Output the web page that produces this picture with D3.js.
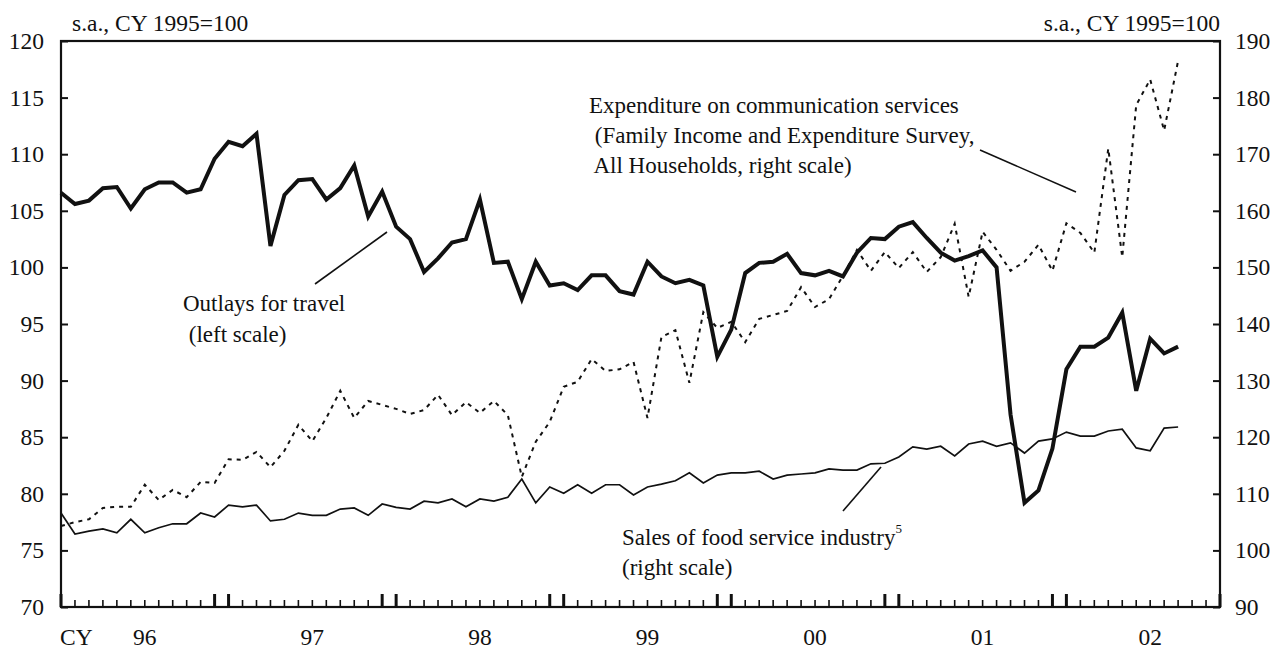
<!DOCTYPE html>
<html>
<head>
<meta charset="utf-8">
<script src="https://cdn.jsdelivr.net/npm/d3@7"></script>
<style>
  html, body { margin: 0; padding: 0; background: #fff; }
  svg { display: block; }
  svg text { font-family: "Liberation Serif", "DejaVu Serif", serif !important; fill: #111; }
</style>
</head>
<body>
<svg id="chart" width="1275" height="651"></svg>
<script>
// ---- data (monthly, index 0 = Jan 1996) ----
const yearLabels = ["96", "97", "98", "99", "00", "01", "02"];
const leftTicks = [70, 75, 80, 85, 90, 95, 100, 105, 110, 115, 120];
const rightTicks = [90, 100, 110, 120, 130, 140, 150, 160, 170, 180, 190];

// Outlays for travel (left scale)
const travel = [
  106.6,105.6,105.9,107.0,107.1,105.2,106.9,107.5,107.5,106.6,106.9,109.6,
  111.1,110.7,111.8,101.9,106.4,107.7,107.8,106.0,107.0,109.0,104.5,106.7,
  103.6,102.5,99.6,100.8,102.2,102.5,106.0,100.4,100.5,97.2,100.5,98.4,
  98.6,98.0,99.3,99.3,97.9,97.6,100.5,99.2,98.6,98.9,98.4,92.1,
  94.5,99.5,100.4,100.5,101.2,99.5,99.3,99.7,99.2,101.3,102.6,102.5,
  103.6,104.0,102.6,101.3,100.6,101.0,101.5,100.0,87.0,79.2,80.3,84.0,
  91.0,93.0,93.0,93.8,96.0,89.1,93.7,92.4,93.0
];

// Sales of food service industry (right scale)
const food = [
  106.6,102.9,103.4,103.8,103.1,105.5,103.1,104.0,104.7,104.7,106.6,105.9,
  108.0,107.7,108.0,105.2,105.5,106.6,106.2,106.2,107.3,107.5,106.2,108.2,
  107.6,107.3,108.7,108.4,109.1,107.7,109.1,108.7,109.4,112.6,108.4,111.2,
  110.1,111.6,110.1,111.6,111.6,109.8,111.2,111.7,112.3,113.7,111.9,113.3,
  113.7,113.7,114.0,112.6,113.3,113.5,113.7,114.4,114.2,114.2,115.3,115.4,
  116.5,118.3,117.9,118.4,116.7,118.8,119.3,118.4,119.0,117.2,119.3,119.7,
  120.9,120.2,120.2,121.1,121.4,118.1,117.6,121.6,121.8
];

// Expenditure on communication services (right scale)
const comm = [
  104.3,105.0,105.5,107.5,107.7,107.7,111.6,108.9,110.7,109.4,112.1,111.9,
  116.1,116.0,117.4,114.7,117.6,122.2,119.3,123.4,128.2,123.4,126.4,125.7,
  125.0,124.1,124.8,127.5,123.9,126.2,124.3,126.4,123.9,113.0,119.2,122.7,
  128.9,129.8,133.8,131.7,132.0,133.3,123.4,137.7,138.9,129.6,142.1,139.3,
  140.4,136.8,140.9,141.6,142.3,146.5,143.0,144.4,148.5,153.1,149.4,152.7,
  149.9,152.7,149.2,151.8,157.7,144.8,156.3,153.1,149.4,151.0,154.0,149.4,
  157.8,156.1,152.6,171.0,151.8,178.7,183.2,174.2,186.5
];

// ---- layout ----
const svg = d3.select("#chart");
const L = 61, R = 1220, T = 41, B = 607;
const nMonths = 83;
const FONT = "Liberation Serif, DejaVu Serif, serif";

const x = d3.scaleLinear().domain([0, nMonths]).range([L, R]);
const yL = d3.scaleLinear().domain([70, 120]).range([B, T]);
const yR = d3.scaleLinear().domain([90, 190]).range([B, T]);

const FS = 23.5;   // axis / unit text
const FA = 23;     // annotation text

// ---- axes ----
const leftAxis = d3.axisLeft(yL).tickValues(leftTicks).tickSize(-7).tickPadding(17).tickFormat(d3.format("d"));
const gL = svg.append("g").attr("transform", `translate(${L},0)`).call(leftAxis);
const rightAxis = d3.axisRight(yR).tickValues(rightTicks).tickSize(-7).tickPadding(15).tickFormat(d3.format("d"));
const gR = svg.append("g").attr("transform", `translate(${R},0)`).call(rightAxis);
[gL, gR].forEach(g => {
  g.attr("font-family", FONT).attr("font-size", FS);
  g.select(".domain").remove();
  g.selectAll(".tick line").attr("stroke", "#111").attr("stroke-width", 2);
  g.selectAll(".tick text").attr("font-size", FS).attr("font-family", FONT).attr("fill", "#111").attr("dy", "0.32em");
});

// frame
svg.append("rect").attr("x", L).attr("y", T).attr("width", R - L).attr("height", B - T)
  .attr("fill", "none").attr("stroke", "#111").attr("stroke-width", 2.2);

// month ticks on bottom axis
const monthIdx = d3.range(0, nMonths + 1);
const isMajor = i => (i % 12 === 0 || i % 12 === 11);
svg.append("g").selectAll("line").data(monthIdx).join("line")
  .attr("x1", d => x(d)).attr("x2", d => x(d))
  .attr("y1", B).attr("y2", d => isMajor(d) ? B - 13 : B - 7)
  .attr("stroke", "#111")
  .attr("stroke-width", d => isMajor(d) ? 3 : 1.6);

// year labels
svg.append("g").selectAll("text").data(yearLabels).join("text")
  .attr("x", (d, i) => x(6 + 12 * i)).attr("y", 645)
  .attr("text-anchor", "middle").attr("font-size", FS).attr("font-family", FONT).text(d => d);
svg.append("text").attr("x", 60).attr("y", 645).attr("font-size", FS).attr("font-family", FONT).text("CY");

// unit labels
svg.append("text").attr("x", 72).attr("y", 31).attr("font-size", FS).attr("font-family", FONT).text("s.a., CY 1995=100");
svg.append("text").attr("x", R).attr("y", 31).attr("text-anchor", "end").attr("font-size", FS).attr("font-family", FONT).text("s.a., CY 1995=100");

// ---- lines ----
const lineL = d3.line().x((d, i) => x(i)).y(d => yL(d));
const lineR = d3.line().x((d, i) => x(i)).y(d => yR(d));

svg.append("path").datum(comm).attr("d", lineR)
  .attr("fill", "none").attr("stroke", "#111").attr("stroke-width", 2)
  .attr("stroke-dasharray", "4,5");

svg.append("path").datum(food).attr("d", lineR)
  .attr("fill", "none").attr("stroke", "#111").attr("stroke-width", 1.7);

svg.append("path").datum(travel).attr("d", lineL)
  .attr("fill", "none").attr("stroke", "#111").attr("stroke-width", 4)
  .attr("stroke-linejoin", "miter");

// ---- annotations ----
function leader(x1, y1, x2, y2) {
  svg.append("line").attr("x1", x1).attr("y1", y1).attr("x2", x2).attr("y2", y2)
    .attr("stroke", "#111").attr("stroke-width", 1.6);
}
function lines(xp, y0, dy, arr) {
  arr.forEach((t, i) => {
    svg.append("text").attr("x", xp).attr("y", y0 + i * dy).attr("font-size", FA)
      .attr("font-family", FONT)
      .attr("xml:space", "preserve").style("white-space", "pre").text(t);
  });
}

lines(183, 311, 31, ["Outlays for travel", " (left scale)"]);
leader(315, 284, 387, 232);

lines(589, 113, 30, ["Expenditure on communication services", " (Family Income and Expenditure Survey,", " All Households, right scale)"]);
leader(980, 150, 1076, 192);

const sf = svg.append("text").attr("x", 622).attr("y", 545).attr("font-size", FA).attr("font-family", FONT);
sf.append("tspan").text("Sales of food service industry");
sf.append("tspan").attr("font-size", 13).attr("dy", -12).text("5");
lines(622, 575, 30, ["(right scale)"]);
leader(843, 511, 881, 467);
</script>
</body>
</html>
